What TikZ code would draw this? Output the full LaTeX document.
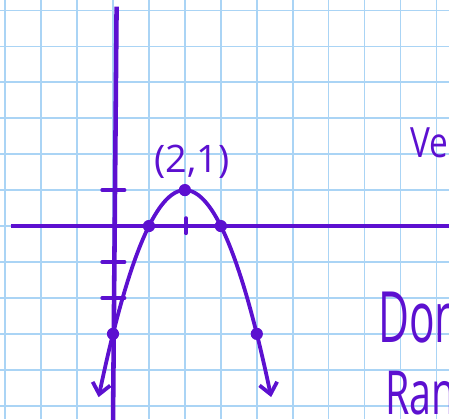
\documentclass[tikz,border=0pt]{standalone}
\usepackage{fontspec}
\setmainfont{Open Sans}
\usetikzlibrary{arrows.meta}
\definecolor{ink}{RGB}{92,16,208}
\definecolor{gridblue}{RGB}{170,212,245}

\begin{document}
\begin{tikzpicture}[
  gridline/.style={draw=gridblue, line width=1.2pt},
  axisline/.style={draw=ink, line width=3.6pt},
  tickmark/.style={draw=ink, line width=3pt, line cap=round},
  curve/.style={draw=ink, line width=3pt, line cap=round, line join=round},
  dot/.style={circle, fill=ink, inner sep=0pt, minimum size=3.4mm},
  hand/.style={text=ink, inner sep=0pt, anchor=base west, transform shape}
]
\useasboundingbox (-3.143,-5.369) rectangle (9.346,6.287);
\clip (-3.143,-5.369) rectangle (9.346,6.287);
\draw[gridline] (-3.143,-5.369) grid (9.346,6.287);

% axes
\coordinate (ytop) at (0.1,6.1);
\coordinate (ybot) at (0,-5.5);
\coordinate (xleft) at (-2.85,0);
\coordinate (xright) at (9.5,0);
\draw[axisline] (ybot) -- (ytop);
\draw[axisline] (xleft) -- (xright);

% ticks
\foreach \y in {1,-1,-2}
  \draw[tickmark] (-0.3,\y) -- (0.32,\y);
\draw[tickmark] (2.03,0.22) -- (2.03,-0.2);

% parabola
\draw[curve, {Straight Barb[length=3mm,width=5mm]}-{Straight Barb[length=3mm,width=5mm]}]
  plot[domain=-0.4:4.4, samples=60, smooth] (\x,{1-(\x-2)^2});

\node[dot] (vertex) at (2,1) {};
\node[dot] (xint1) at (1,0) {};
\node[dot] (xint2) at (3,0) {};
\node[dot] (yint) at (0,-3) {};
\node[dot] (rightpt) at (4,-3) {};

% labels
\node[hand, anchor=center, font=\fontsize{30}{30}\selectfont] (vertexlabel) at (2.2,1.8) {(2,1)};
\node[hand, font=\fontsize{33}{33}\selectfont, xscale=0.8] (velabel) at (8.27,1.92) {Ve};
\node[hand, font=\fontsize{56}{56}\selectfont, xscale=0.6] (donlabel) at (7.37,-3.25) {Don};
\node[hand, font=\fontsize{48}{48}\selectfont, xscale=0.65] (ranlabel) at (7.57,-5.25) {Ran};
\end{tikzpicture}
\end{document}
